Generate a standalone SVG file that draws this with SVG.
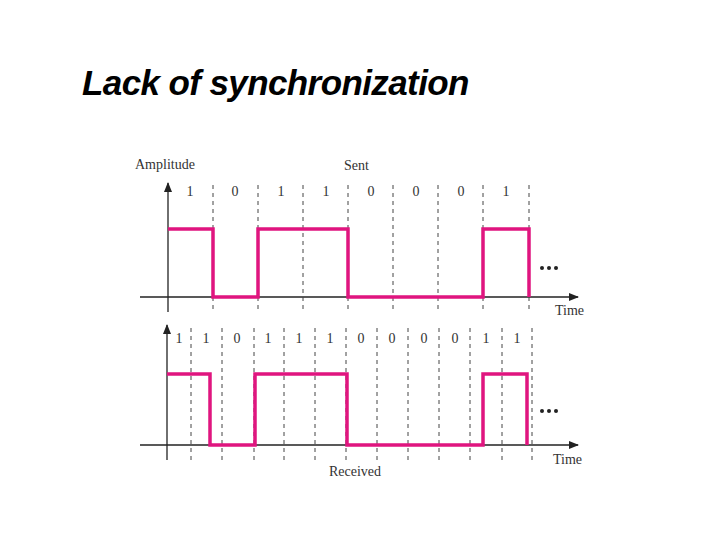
<svg xmlns="http://www.w3.org/2000/svg" width="720" height="540" viewBox="0 0 720 540">
<style>
.t{font-family:"Liberation Serif",serif;font-size:14px;fill:#333}
.b{font-family:"Liberation Serif",serif;font-size:14px;fill:#333;text-anchor:middle}
.ax{stroke:#222;stroke-width:1.3;fill:none}
.d{stroke:#444;stroke-width:1;stroke-dasharray:4,4}
.s{stroke:#e0157f;stroke-width:3.5;fill:none}
.dot{fill:#222}
</style>
<defs><marker id="ar" markerWidth="10" markerHeight="8" refX="9" refY="4" orient="auto" markerUnits="userSpaceOnUse"><path d="M0,0 L10,4 L0,8 z" fill="#222"/></marker></defs>
<rect width="720" height="540" fill="#fff"/>
<text x="82" y="95" font-family="Liberation Sans,Arial,sans-serif" font-size="35" font-weight="bold" font-style="italic" letter-spacing="-0.6" fill="#000">Lack of synchronization</text>
<g id="sent">
<text class="t" x="135" y="169">Amplitude</text>
<text class="t" x="344" y="170">Sent</text>
<line class="ax" x1="168" y1="312" x2="168" y2="183" marker-end="url(#ar)"/>
<line class="ax" x1="140" y1="297" x2="578" y2="297" marker-end="url(#ar)"/>
<g class="d"><line x1="213" y1="185" x2="213" y2="312"/><line x1="258" y1="185" x2="258" y2="312"/><line x1="303" y1="185" x2="303" y2="312"/><line x1="348" y1="185" x2="348" y2="312"/><line x1="393" y1="185" x2="393" y2="312"/><line x1="438" y1="185" x2="438" y2="312"/><line x1="483" y1="185" x2="483" y2="312"/><line x1="529" y1="185" x2="529" y2="312"/></g>
<g class="b"><text x="190" y="196">1</text><text x="235" y="196">0</text><text x="281" y="196">1</text><text x="326" y="196">1</text><text x="371" y="196">0</text><text x="416" y="196">0</text><text x="461" y="196">0</text><text x="506" y="196">1</text></g>
<path class="s" d="M168,229 H213 V297 H258 V229 H348 V297 H483 V229 H529 V297"/>
<g class="dot"><circle cx="542" cy="268" r="2"/><circle cx="549" cy="268" r="2"/><circle cx="556" cy="268" r="2"/></g>
<text class="t" x="555" y="315">Time</text>
</g>
<g id="received">
<line class="ax" x1="167" y1="460" x2="167" y2="325" marker-end="url(#ar)"/>
<line class="ax" x1="140" y1="445" x2="578" y2="445" marker-end="url(#ar)"/>
<g class="d"><line x1="191" y1="328" x2="191" y2="460"/><line x1="222" y1="328" x2="222" y2="460"/><line x1="254" y1="328" x2="254" y2="460"/><line x1="284" y1="328" x2="284" y2="460"/><line x1="315" y1="328" x2="315" y2="460"/><line x1="346" y1="328" x2="346" y2="460"/><line x1="377" y1="328" x2="377" y2="460"/><line x1="408" y1="328" x2="408" y2="460"/><line x1="439" y1="328" x2="439" y2="460"/><line x1="470" y1="328" x2="470" y2="460"/><line x1="502" y1="328" x2="502" y2="460"/><line x1="532" y1="328" x2="532" y2="460"/></g>
<g class="b"><text x="179" y="343">1</text><text x="206" y="343">1</text><text x="237" y="343">0</text><text x="268" y="343">1</text><text x="299" y="343">1</text><text x="330" y="343">1</text><text x="361" y="343">0</text><text x="392" y="343">0</text><text x="424" y="343">0</text><text x="455" y="343">0</text><text x="486" y="343">1</text><text x="517" y="343">1</text></g>
<path class="s" d="M167,374 H210 V445 H255 V374 H347 V445 H483 V374 H527 V445"/>
<g class="dot"><circle cx="542" cy="411" r="2"/><circle cx="549" cy="411" r="2"/><circle cx="556" cy="411" r="2"/></g>
<text class="t" x="553" y="464">Time</text>
<text class="t" x="329" y="476">Received</text>
</g>
</svg>
